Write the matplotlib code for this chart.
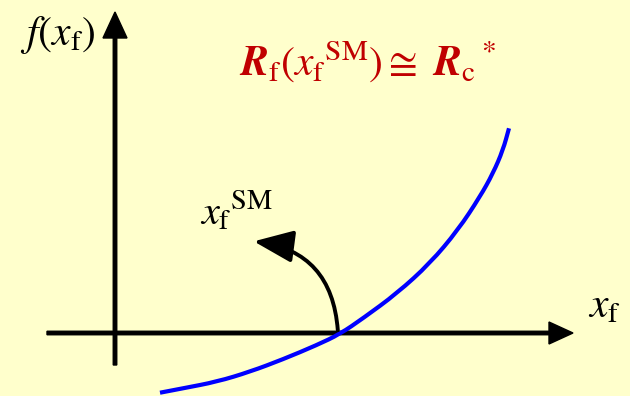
import numpy as np
import matplotlib.pyplot as plt
from matplotlib.patches import FancyArrowPatch, PathPatch
from matplotlib.path import Path

plt.rcParams['mathtext.fontset'] = 'stix'
plt.rcParams['font.family'] = 'STIXGeneral'

# curve f(x_f), in figure pixel coordinates
curve_x = [160, 183, 217, 250, 283, 317, 340, 363, 397, 430, 458, 480, 493, 503, 509]
curve_y = [392.7, 388.3, 381.7, 371.7, 359.3, 345, 334, 318.3, 293.3, 263.3,
           230, 196.7, 173.3, 150, 128.3]

# axes geometry
x_axis = (47, 573, 333)   # start, tip, y
y_axis = (115, 365, 12)   # x, start, tip
root = (338, 333)
arrow_tip = (251, 241)

bg = '#FFFFCC'
fig = plt.figure(figsize=(6.3, 3.96), dpi=100, facecolor=bg)
ax = fig.add_axes([0, 0, 1, 1])
ax.set_xlim(0, 630)
ax.set_ylim(396, 0)
ax.set_facecolor(bg)
ax.axis('off')

# axes with arrowheads
ax.arrow(x_axis[0], x_axis[2], x_axis[1] - x_axis[0], 0, width=3.5,
         head_width=22, head_length=24, length_includes_head=True,
         color='black')
ax.arrow(y_axis[0], y_axis[1], 0, y_axis[2] - y_axis[1], width=3.5,
         head_width=24, head_length=26, length_includes_head=True,
         color='black')

# smooth the curve: quadratic segments between midpoints, points as controls
pts = np.column_stack([curve_x, curve_y])
mids = (pts[:-1] + pts[1:]) / 2
verts = [pts[0], mids[0]]
codes = [Path.MOVETO, Path.LINETO]
for i in range(1, len(pts) - 1):
    verts += [pts[i], mids[i]]
    codes += [Path.CURVE3, Path.CURVE3]
verts.append(pts[-1])
codes.append(Path.LINETO)
ax.add_patch(PathPatch(Path(verts, codes), fill=False, edgecolor='#0000FF',
                       lw=3, capstyle='butt'))

arr = FancyArrowPatch(root, arrow_tip, connectionstyle='arc3,rad=0.42',
                      arrowstyle='-|>,head_length=1.1,head_width=0.45',
                      mutation_scale=22, lw=2.8, color='black')
ax.add_patch(arr)

ax.text(58, 35, r'$f(x_\mathrm{f})$', fontsize=30, ha='center', va='center')
ax.text(604, 308, r'$x_\mathrm{f}$', fontsize=30, ha='center', va='center')
ax.text(236, 212, r'${x_\mathrm{f}}^\mathrm{SM}$', fontsize=29,
        ha='center', va='center')
ax.text(368, 62, r'$\mathbfit{R}_\mathrm{f}({x_\mathrm{f}}^\mathrm{SM})\cong\ {\mathbfit{R}_\mathrm{c}}^*$',
        fontsize=30, ha='center', va='center', color='#C00000')

fig.savefig('out.png', dpi=100, facecolor=bg)
